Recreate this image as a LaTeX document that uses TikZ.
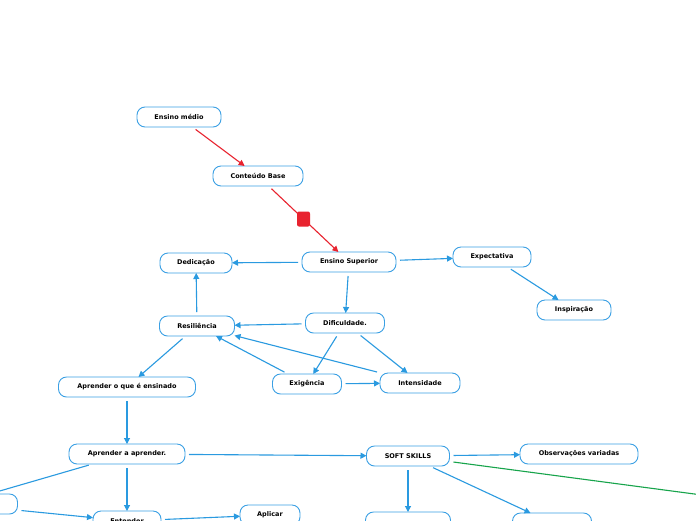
\documentclass[tikz,border=0pt]{standalone}
\usepackage{fontspec}
\setmainfont{DejaVu Sans}
\usetikzlibrary{arrows.meta}
\definecolor{mmblue}{HTML}{2A9AE0}
\definecolor{mmborder}{HTML}{3BA0E4}
\definecolor{mmred}{HTML}{E8232F}
\definecolor{mmgreen}{HTML}{17A44B}
\tikzset{
  topic/.style={draw=mmborder, line width=0.9pt, fill=white, rounded corners=8pt,
    minimum height=20pt, inner sep=0pt, outer sep=0pt,
    font=\fontsize{6.5}{7}\selectfont\bfseries},
  link/.style={draw=mmblue, line width=1.1pt, shorten <=4pt,
    -{Triangle[length=6pt,width=6pt]}},
  plainlink/.style={draw=mmblue, line width=1.1pt, shorten <=4pt},
  redlink/.style={draw=mmred, line width=1.1pt, shorten <=4pt,
    -{Triangle[length=6pt,width=6pt]}},
  greenlink/.style={draw=mmgreen, line width=1.1pt, shorten <=4pt},
  marker/.style={fill=mmred, rounded corners=2pt, minimum width=13pt, minimum height=15pt, inner sep=0pt}
}
\begin{document}
\begin{tikzpicture}[x=1pt,y=-1pt]
\useasboundingbox (0,0) rectangle (696,520);
\clip (0,0) rectangle (696,520);
\fill[white] (0,0) rectangle (696,520);

\node[topic, minimum width=84pt] (medio) at (179,117) {Ensino médio};
\node[topic, minimum width=90pt] (base) at (258,176) {Conteúdo Base};
\node[topic, minimum width=94pt] (sup) at (349,262) {Ensino Superior};
\node[topic, minimum width=72pt] (ded) at (196,263) {Dedicação};
\node[topic, minimum width=78pt] (exp) at (492,257) {Expectativa};
\node[topic, minimum width=74pt] (insp) at (574,310) {Inspiração};
\node[topic, minimum width=75pt] (res) at (197,326) {Resiliência};
\node[topic, minimum width=79pt] (dif) at (345,323) {Dificuldade.};
\node[topic, minimum width=69pt] (exig) at (307,384) {Exigência};
\node[topic, minimum width=80pt] (int) at (420,383) {Intensidade};
\node[topic, minimum width=137pt] (ens) at (127,387) {Aprender o que é ensinado};
\node[topic, minimum width=116pt] (apr) at (127,454) {Aprender a aprender.};
\node[topic, minimum width=83pt] (soft) at (408,456) {SOFT SKILLS};
\node[topic, minimum width=118pt] (obs) at (579,454) {Observações variadas};
\node[topic, minimum width=125pt] (left) at (-45,504) {};
\node[topic, minimum width=68pt] (ent) at (127,521) {Entender};
\node[topic, minimum width=60pt] (apl) at (270,515) {Aplicar};
\node[topic, minimum width=85pt] (b1) at (408,522) {};
\node[topic, minimum width=79pt] (b2) at (552,523) {};
\coordinate (far) at (800,508);

\draw[redlink] (medio) -- (base);
\draw[redlink] (base) -- (sup) node[marker, pos=0.5] (mk) {};

\draw[link] (sup) -- (ded);
\draw[link] (sup) -- (exp);
\draw[link] (exp) -- (insp);
\draw[link] (sup) -- (dif);
\draw[link] (dif) -- (res);
\draw[link] (res) -- (ded);
\draw[link] (dif) -- (exig);
\draw[link] (dif) -- (int);
\draw[link] (exig) -- (res);
\draw[link] (int) -- (res);
\draw[link] (exig) -- (int);
\draw[link] (res) -- (ens);
\draw[link] (ens) -- (apr);
\draw[link] (apr) -- (soft);
\draw[link] (apr) -- (left);
\draw[link] (left) -- (ent);
\draw[link] (apr) -- (ent);
\draw[link] (ent) -- (apl);
\draw[link] (soft) -- (obs);
\draw[link] (soft) -- (b1);
\draw[link] (soft) -- (b2);
\draw[greenlink] (soft) -- (far);
\end{tikzpicture}
\end{document}
